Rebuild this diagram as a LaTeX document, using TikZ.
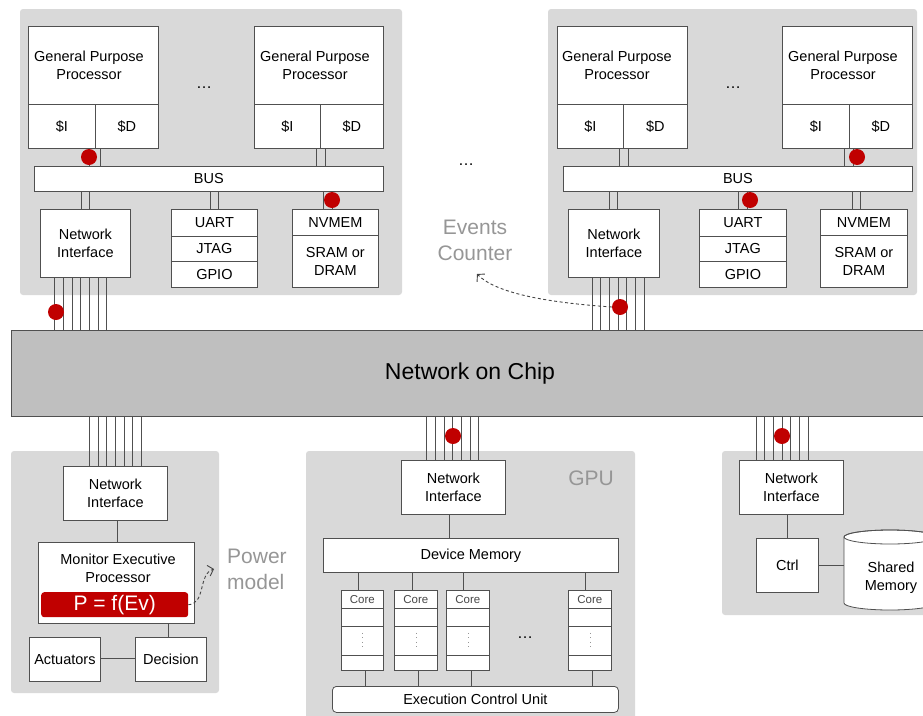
\documentclass[tikz,border=0pt]{standalone}
\usepackage{fontspec}
\setmainfont{Liberation Sans}
\usetikzlibrary{arrows.meta,calc}
\definecolor{clbg}{HTML}{D9D9D9}
\definecolor{nocbg}{HTML}{BFBFBF}
\definecolor{ln}{HTML}{505050}
\definecolor{rd}{HTML}{C00000}
\definecolor{lblc}{HTML}{969696}
\newcommand{\fsA}{\fontsize{14.5}{18}\selectfont}
\newcommand{\fsL}{\fontsize{21}{26}\selectfont}
\newcommand{\fsC}{\fontsize{11.5}{13}\selectfont}
\newcommand{\bx}[6]{\node[box, minimum width={#4-#2}, minimum height={#5-#3}] (#1) at (#2,#3) {#6};}
\newcommand{\vl}[3]{\draw[conn] (#1.south -| #3,0) -- (#2.north -| #3,0);}
\tikzset{
  cluster/.style={fill=clbg, draw=none, rounded corners=3pt},
  box/.style={draw=ln, fill=white, line width=0.8pt, inner sep=0pt, anchor=north west, align=center, font=\fsA},
  conn/.style={draw=ln, line width=0.8pt},
  wire/.style={draw=ln, line width=0.6pt},
  rdot/.style={circle, fill=rd, minimum size=16pt, inner sep=0pt, draw=none},
  lbl/.style={text=lblc, font=\fsL, align=center, inner sep=0pt},
  txt/.style={font=\fsA, align=center, inner sep=0pt},
  dasharrow/.style={draw=ln!85!black, line width=0.9pt, dash pattern=on 3pt off 2.5pt, -{Straight Barb[length=5pt,width=11pt]}}
}
\begin{document}
\begin{tikzpicture}[x=1pt,y=-1pt]
\useasboundingbox (0,0) rectangle (923,715);
\clip (0,0) rectangle (923,715);
% clusters
\fill[cluster] (20,9) rectangle (402,295);
\fill[cluster] (548,9) rectangle (917,295);
\fill[cluster] (11,451) rectangle (219,693);
\fill[cluster] (306,451) rectangle (635,725);
\fill[cluster] (722,451) rectangle (935,615);
% NoC
\node[draw=ln, fill=nocbg, line width=0.8pt, anchor=north west, minimum width=925pt, minimum height=86pt, inner sep=0pt] (noc) at (11,330) {};
\node[font=\fontsize{23}{26}\selectfont, inner sep=0pt] (noctxt) at (470,374) {Network on Chip};

% ---------- top-left cluster ----------
\bx{gpa}{28}{26}{158}{104}{}
\bx{gpai}{28}{104}{95}{148}{\$I}
\bx{gpad}{95}{104}{158}{148}{\$D}
\node[txt] (gpat) at (89,65) {General Purpose\\Processor};
\bx{gpb}{254}{26}{383}{104}{}
\bx{gpbi}{254}{104}{320}{148}{\$I}
\bx{gpbd}{320}{104}{383}{148}{\$D}
\node[txt] (gpbt) at (315,65) {General Purpose\\Processor};
\node[font=\fontsize{16}{18}\selectfont] (dotsa) at (204,88) {…};
\bx{busa}{34}{166}{383}{191}{BUS}
\bx{nia}{40}{209}{130}{277}{Network\\Interface}
\bx{uarta}{171}{209}{257}{236}{UART}
\bx{jtaga}{171}{236}{257}{261}{JTAG}
\bx{gpioa}{171}{261}{257}{287}{GPIO}
\bx{nvma}{292}{209}{378}{235}{NVMEM}
\bx{srama}{292}{235}{378}{287}{SRAM or\\DRAM}
\vl{gpai}{busa}{89}
\vl{gpad}{busa}{100}
\vl{gpbi}{busa}{316}
\vl{gpbd}{busa}{325}
\vl{busa}{nia}{81}
\vl{busa}{nia}{89}
\vl{busa}{uarta}{210}
\vl{busa}{uarta}{218}
\vl{busa}{nvma}{323}
\vl{busa}{nvma}{332}

% ---------- top-right cluster ----------
\bx{gpc}{557}{26}{687}{104}{}
\bx{gpci}{557}{104}{623}{148}{\$I}
\bx{gpcd}{623}{104}{687}{148}{\$D}
\node[txt] (gpct) at (617,65) {General Purpose\\Processor};
\bx{gpd}{782}{26}{912}{104}{}
\bx{gpdi}{782}{104}{849}{148}{\$I}
\bx{gpdd}{849}{104}{912}{148}{\$D}
\node[txt] (gpdt) at (843,65) {General Purpose\\Processor};
\node[font=\fontsize{16}{18}\selectfont] (dotsb) at (733,88) {…};
\bx{busb}{563}{166}{912}{191}{BUS}
\bx{nib}{568}{209}{659}{277}{Network\\Interface}
\bx{uartb}{699}{209}{786}{236}{UART}
\bx{jtagb}{699}{236}{786}{261}{JTAG}
\bx{gpiob}{699}{261}{786}{287}{GPIO}
\bx{nvmb}{820}{209}{907}{235}{NVMEM}
\bx{sramb}{820}{235}{907}{287}{SRAM or\\DRAM}
\vl{gpci}{busb}{619}
\vl{gpci}{busb}{628}
\vl{gpdd}{busb}{844}
\vl{gpdd}{busb}{853}
\vl{busb}{nib}{609}
\vl{busb}{nib}{617}
\vl{busb}{uartb}{738}
\vl{busb}{uartb}{747}
\vl{busb}{nvmb}{852}
\vl{busb}{nvmb}{860}
\node[font=\fontsize{16}{18}\selectfont] (dotsc) at (466,165) {…};

% bundles top
\foreach \i in {0,...,6} {
  \pgfmathsetmacro\xa{54.5+8.7*\i}
  \pgfmathsetmacro\xb{592+8.67*\i}
  \draw[wire] (nia.south -| \xa,0) -- (noc.north -| \xa,0);
  \draw[wire] (nib.south -| \xb,0) -- (noc.north -| \xb,0);
}

% ---------- bottom-left cluster ----------
\bx{nic}{63}{466}{167}{520}{Network\\Interface}
\bx{mep}{38}{542}{194}{623}{}
\node[txt] (mept) at (118,568) {Monitor Executive\\Processor};
\node[fill=rd, rounded corners=3pt, anchor=north west, minimum width=147pt, minimum height=25pt, inner sep=0pt, text=white, font=\fontsize{21}{24}\selectfont] (pbox) at (41,592) {P = f(Ev)};
\bx{act}{29}{637}{100}{681}{Actuators}
\bx{dec}{135}{637}{206}{681}{Decision}
\vl{nic}{mep}{117}
\vl{mep}{dec}{168}
\draw[conn] (act.east |- 0,658) -- (dec.west |- 0,658);

% ---------- GPU cluster ----------
\bx{nid}{401}{460}{505}{514}{Network\\Interface}
\node[lbl] (gpul) at (591,478) {GPU};
\bx{devm}{323}{538}{618}{572}{Device Memory}
\vl{nid}{devm}{449}
\foreach \n/\xl/\xr in {a/341/383, b/394/437, c/446/489, d/568/611} {
  \bx{core\n}{\xl}{590}{\xr}{608}{\fsC\color{ln!90!black}Core}
  \bx{cb\n}{\xl}{608}{\xr}{626}{}
  \bx{cc\n}{\xl}{626}{\xr}{655}{}
  \bx{cd\n}{\xl}{655}{\xr}{670}{}
  \draw[lblc, line width=0.8pt, dash pattern=on 1pt off 3.5pt] ($(cc\n.center)+(0,-8)$) -- ($(cc\n.center)+(0,8)$);
}
\node[font=\fontsize{16}{18}\selectfont] (dotsd) at (525,638) {…};
\node[box, rounded corners=4pt, minimum width=286pt, minimum height=26pt] (ecu) at (332,686) {Execution Control Unit};
\vl{devm}{corea}{358}
\vl{devm}{coreb}{412}
\vl{devm}{corec}{463}
\vl{devm}{cored}{585}
\vl{cda}{ecu}{365}
\vl{cdb}{ecu}{418}
\vl{cdc}{ecu}{471}
\vl{cdd}{ecu}{592}

% ---------- shared memory cluster ----------
\bx{nie}{739}{460}{843}{514}{Network\\Interface}
\bx{ctrl}{756}{538}{818}{592}{Ctrl}
\vl{nie}{ctrl}{787}
\draw[ln, fill=white, line width=0.8pt] (844,537) -- (844,603) arc[start angle=180, end angle=360, x radius=46pt, y radius=7pt] -- (936,537) arc[start angle=0, end angle=180, x radius=46pt, y radius=7pt] -- cycle;
\draw[ln, line width=0.8pt] (890,537) ellipse [x radius=46pt, y radius=7pt];
\node[inner sep=0pt, minimum width=92pt, minimum height=78pt, anchor=north west] (shm) at (844,530) {};
\node[txt] (shmt) at (891,578) {Shared\\Memory};
\draw[conn] (ctrl.east) -- (ctrl.east -| shm.west);

% bundles bottom
\foreach \i in {0,...,6} {
  \pgfmathsetmacro\xc{89.3+8.67*\i}
  \pgfmathsetmacro\xd{426.7+8.67*\i}
  \pgfmathsetmacro\xe{756+8.67*\i}
  \draw[wire] (noc.south -| \xc,0) -- (nic.north -| \xc,0);
  \draw[wire] (noc.south -| \xd,0) -- (nid.north -| \xd,0);
  \draw[wire] (noc.south -| \xe,0) -- (nie.north -| \xe,0);
}

% red dots
\node[rdot] (d1) at (89,157) {};
\node[rdot] (d2) at (332,200) {};
\node[rdot] (d3) at (56,312) {};
\node[rdot] (d4) at (857,157) {};
\node[rdot] (d5) at (750,200) {};
\node[rdot] (d6) at (620,307) {};
\node[rdot] (d7) at (453,436) {};
\node[rdot] (d8) at (782,436) {};

% labels and dashed arrows
\node[lbl] (evc) at (475,240) {Events\\Counter};
\node[lbl, align=left, anchor=west] (pwm) at (227,569) {Power\\model};
\coordinate (ectip) at (477,274);
\coordinate (pmtip) at (214,569);
\draw[dasharrow] (d6.west) .. controls (540,302) and (495,292) .. (ectip);
\draw[dasharrow] (pbox.east) .. controls (206,604) and (198,574) .. (pmtip);
\end{tikzpicture}
\end{document}
